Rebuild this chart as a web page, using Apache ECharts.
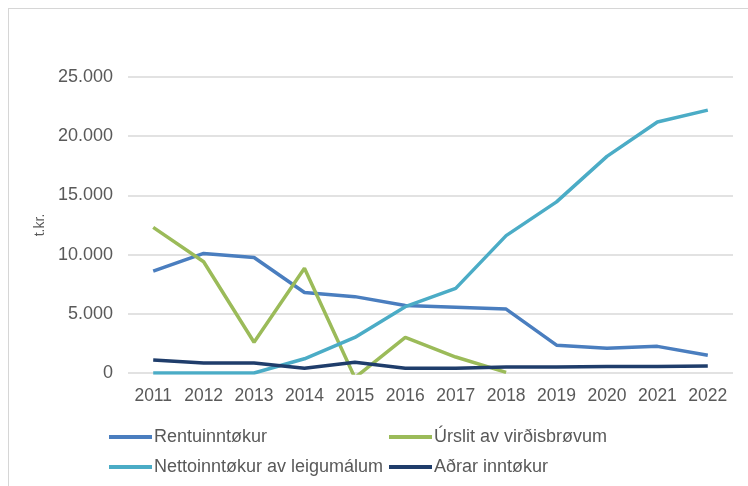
<!DOCTYPE html>
<html>
<head>
<meta charset="utf-8">
<script src="https://cdn.jsdelivr.net/npm/echarts@6/dist/echarts.min.js"></script>
<style>
  html, body { margin: 0; padding: 0; background: #fff; }
  #wrap { position: relative; width: 748px; height: 486px; overflow: hidden; }
  #chart { width: 748px; height: 486px; }
  #frame { position: absolute; left: 8px; top: 8px; width: 760px; height: 500px;
           border-left: 1px solid #d6d6d6; border-top: 1px solid #d6d6d6; pointer-events: none; }
</style>
</head>
<body>
<div id="wrap">
  <div id="chart"></div>
  <div id="frame"></div>
</div>
<script>
const years = ['2011', '2012', '2013', '2014', '2015', '2016', '2017', '2018', '2019', '2020', '2021', '2022'];
const rentu = [8600, 10100, 9750, 6800, 6450, 5700, 5550, 5400, 2350, 2100, 2250, 1500];
const urslit = [12300, 9400, 2600, 8850, -400, 3000, 1350, 50, null, null, null, null];
const netto = [0, 0, 0, 1200, 3000, 5600, 7150, 11600, 14450, 18300, 21200, 22200];
const adrar = [1100, 850, 850, 400, 900, 400, 400, 500, 500, 550, 550, 600];

const names = ['Rentuinntøkur', 'Úrslit av virðisbrøvum', 'Nettoinntøkur av leigumálum', 'Aðrar inntøkur'];
const colors = ['#4a7ebf', '#9bbb59', '#4bacc6', '#1f3d6b'];

const chart = echarts.init(document.getElementById('chart'));
const textColor = '#595959';
const font = 'Liberation Sans, Arial, sans-serif';

function line(name, data, color) {
  return {
    name,
    type: 'line',
    data,
    symbol: 'none',
    connectNulls: false,
    lineStyle: { width: 3.5, color },
    itemStyle: { color },
    clip: true,
  };
}

const legendBase = {
  orient: 'vertical',
  top: 423,
  itemWidth: 43,
  itemHeight: 4,
  itemGap: 12,
  icon: 'rect',
  textStyle: { fontSize: 18, color: textColor, fontFamily: font, padding: [0, 0, 0, -3] },
};

chart.setOption({
  animation: false,
  grid: { left: 128, right: 15, top: 77, bottom: 113 },
  legend: [
    Object.assign({}, legendBase, { left: 104, data: [names[0], names[2]] }),
    Object.assign({}, legendBase, { left: 384, data: [names[1], names[3]] }),
  ],
  xAxis: {
    type: 'category',
    data: years,
    axisLine: { show: false },
    axisTick: { show: false },
    axisLabel: { fontSize: 17.5, color: textColor, fontFamily: font, margin: 14, interval: 0 },
  },
  yAxis: {
    type: 'value',
    min: 0,
    max: 25000,
    interval: 5000,
    name: 't.kr.',
    nameLocation: 'middle',
    nameGap: 78,
    nameTextStyle: { fontSize: 14, color: textColor, fontFamily: font },
    axisLine: { show: false },
    axisTick: { show: false },
    axisLabel: {
      fontSize: 18, color: textColor, fontFamily: font, margin: 15,
      formatter: v => v === 0 ? '0' : v.toLocaleString('de-DE'),
    },
    splitLine: { lineStyle: { color: '#d9d9d9', width: 1.5 } },
  },
  series: [
    line(names[0], rentu, colors[0]),
    line(names[1], urslit, colors[1]),
    line(names[2], netto, colors[2]),
    line(names[3], adrar, colors[3]),
  ],
});
</script>
</body>
</html>
